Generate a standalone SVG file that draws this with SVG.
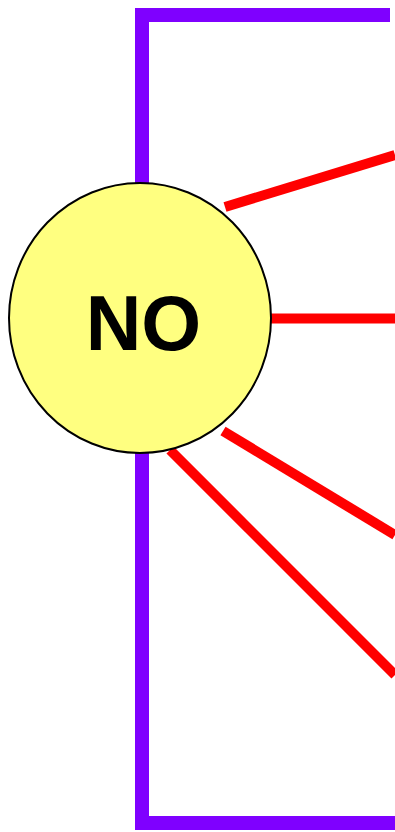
<svg xmlns="http://www.w3.org/2000/svg" width="395" height="832" viewBox="0 0 395 832">
<style>
.p{fill:none;stroke:#7f00ff;stroke-width:14;stroke-linejoin:miter}
.r{fill:none;stroke:#ff0000;stroke-width:10}
.n{fill:#ffff80;stroke:#000;stroke-width:2}
.t{font-family:"Liberation Sans",Arial,sans-serif;font-weight:bold;font-size:77px;fill:#000;text-anchor:middle}
</style>
<rect width="395" height="832" fill="#fff"/>
<g id="connectors">
<path class="p" d="M142,187 V15 H390"/>
<path class="p" d="M142,452 V823 H395"/>
<line class="r" x1="225" y1="207" x2="395" y2="155"/>
<line class="r" x1="271" y1="318.5" x2="395" y2="318.5"/>
<line class="r" x1="223" y1="431" x2="395" y2="535"/>
<line class="r" x1="170" y1="450" x2="395" y2="675"/>
</g>
<g id="node-no">
<ellipse class="n" cx="140" cy="318" rx="131" ry="135"/>
<text class="t" x="143.5" y="350">NO</text>
</g>
</svg>
